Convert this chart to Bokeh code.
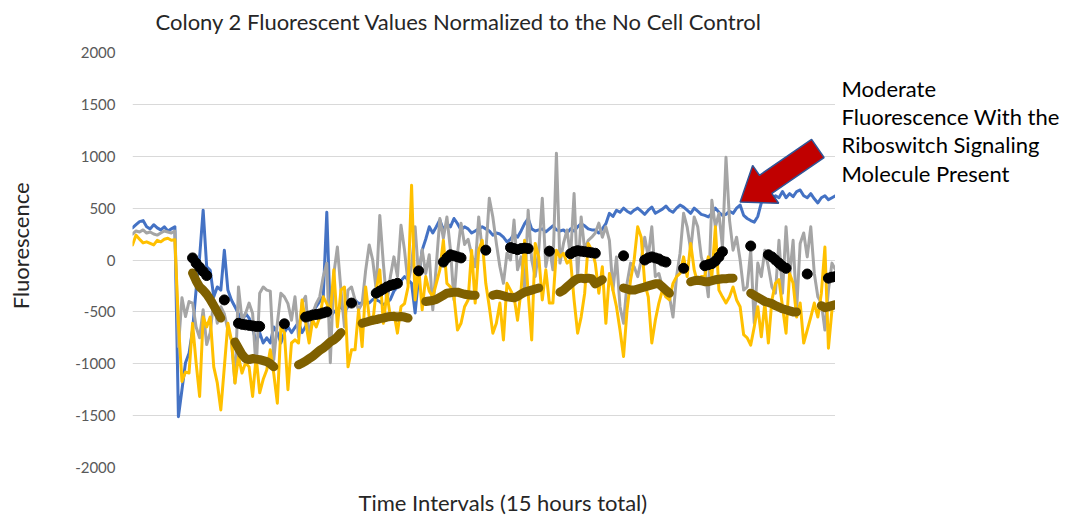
import numpy as np
from bokeh.plotting import figure
from bokeh.layouts import row, column
from bokeh.models import Range1d, Label, FixedTicker
from bokeh.embed import file_html
from bokeh.resources import INLINE

# ---------------- texts ----------------
TITLE = "Colony 2 Fluorescent Values Normalized to the  No Cell Control"
X_TITLE = "Time Intervals (15 hours total)"
Y_TITLE = "Fluorescence"
NOTE_LINES = ["Moderate", "Fluorescence With the", "Riboswitch Signaling", "Molecule Present"]
Y_TICKS = [-2000, -1500, -1000, -500, 0, 500, 1000, 1500, 2000]

# ---------------- series (one value per time interval) ----------------
blue = [310, 340, 370, 380, 320, 300, 340, 310, 290, 320, 280, 300, 320,
        -1510, -1250, -990, -900, -675, -290, 30, 480, -65, -100, -355, -260, -290, 95, -290, -385,
        -450, -520, -600, -515, -560, -650, -800, -700, -800, -750, -800, -645, -700, -800, -700,
        -640, -700, -650, -600, -700, -640, -560, -500, -450, -400, -350, 460, -550,
        -500, -480, -450, -500, -450, -400, -385, -420,
        -415, -400, -415, -380, -385, -400, -430, -415, -380, -300, -260, -200, -160, -190, -225,
        -510, -160, 95, 200, 320, 260, 320, 385, 290, 350, 320, 400, 350, 290, 320, 300, 260, 280, 300,
        320, 300, 280, 240, 260, 250, 220, 175, 200, 250, 220, 280, 350, 400, 300, 280, 290, 300,
        270, 300, 330, 290, 280, 290, 260, 300, 280, 320, 350, 330, 300, 290,
        290, 260, 300, 350, 450, 420, 480, 460, 500, 470, 450, 480, 500, 470, 440, 480, 510, 450,
        470, 490, 520, 480, 460, 500, 530, 510, 480, 450, 500, 470, 440, 430,
        415, 450, 500, 460, 430, 440, 470, 450, 500, 530, 430, 400, 380, 365, 420, 550, 600, 640,
        580, 620, 600, 660, 600, 640, 610, 660, 675, 620, 600, 640, 590, 550, 600, 620, 580, 600, 620]

gray = [250, 280, 270, 290, 260, 270, 250, 240, 260, 280, 270, 260, 280,
        -835, -365, -545, -400, -415, -645, -750, -480, -815, -700, -385, -610, -450, -520, -675,
        -770, -1185, -260, -580, -515, -415, -515, -1060, -320, -260, -290, -300, -960, -610, -320,
        -355, -420, -580, -355, -740, -415, -350, -770, -515, -420, -355, -160, -30, -990,
        -130, 125, -290, -645, -290, -260, -385, -480,
        -420, -100, 145, 0, -290, 430, -30, -415, -160, 30, -160, 335, 95, -225, -50, 320, -160,
        100, -130, 50, -480, -50, 400, 210, 415, 100, -385, 65, 355, 150, 200, 50, -65, 415,
        95, 65, 595, 415, 160, -65, -225, 65, 0, 385, -95, 30, -290, 480, 0, -160, 95, 595, -65,
        125, -95, 1030, -30, 160, 290, 30, 640, -160, 415, 95, 190, 220,
        260, 355, 220, 320, 190, -290, 30, -450, -610, -225, -30, -65, -160, 0, 220, 30, 320,
        -160, -130, -260, -355, -355, -550, -160, 65, 450, 320, 95, 415, 320, 30, -95,
        -355, 575, 320, 450, 125, 990, 385, 95, 220, 0, -290, -260, 95, -610, -30, -160, 95, -65,
        -260, -320, 190, -320, 320, -160, 190, -480, 160, 260, 30, 320, -130, -355, -415, -675,
        -290, -30, -95]

yellow = [145, 240, 200, 165, 175, 160, 145, 190, 175, 200, 210, 190, 195,
          -610, -1170, -1080, -1090, -610, -990, -1315, -550, -645, -550, -1030, -1185, -1445,
          -1030, -610, -770, -1185, -930, -1090, -990, -1030,
          -1315, -930, -1280, -1150, -1060, -865, -1100, -1380, -645, -700, -1250, -800, -770,
          -800, -385, -600, -800, -580, -645, -550, -355, -420, -510, -95, -645, -290, -260,
          -1030, -865, -865, -480,
          -835, -260, -550, -610, -290, -95, -610, -320, -550, -510, -705, -450, -420, -260, 720,
          -385, -65, -480, -160, -300, -355, -225, -95, 190, -225, -260, -355, -675, -610, -450,
          -385, 95,
          -415, 95, 190, -225, -450, -705, -610, -415, -770, -225, -290, -355, -580, -290, 190,
          -320, -770, 160, 30, -385, -95, -415, -415, 95, 30, 65, -30, 0, -385, -705, -550, -320,
          160, 95, -30, -320, -65, -610, -130, -290, -450, -675, -930, -480, -190, 0, 320, 220,
          -225, -355, -800, -580, -415, -290, -355, -385, -225, -160, -130, 30, -160, 160, -95,
          -225, -160, -160,
          30, -160, 320, -290, -355, -415, -355, -260, -385, -450, -720, -750, -820, -645, -450,
          -740, -415, -800, -385, -225, -190, -450, -705, -130, -225, -550, -415, -800, -675,
          -550, -415, -550, -320, 125, -850, -480, -415]

# hand-drawn averaging marks: (first interval, values)
black_segments = [
    (17, [20, -30, -70, -110, -150]),
    (26, [-385]),
    (30, [-610, -620, -625, -630, -635, -640, -640]),
    (43, [-615]),
    (49, [-550, -540, -530, -525, -520, -510, -500]),
    (62, [-415]),
    (69, [-320, -300, -280, -260, -245, -235, -225]),
    (81, [-105]),
    (88, [-20, 20, 50, 40, 30, 20]),
    (100, [95]),
    (107, [120, 110, 100, 110, 115, 110]),
    (118, [85]),
    (124, [60, 80, 90, 85, 80, 75, 70, 65]),
    (139, [40]),
    (145, [0, 20, 30, 20, 10, -10, -20]),
    (156, [-80]),
    (162, [-55, -45, -35, -10, 30, 80]),
    (175, [135]),
    (180, [50, 30, 0, -30, -60, -80]),
    (191, [-135]),
    (197, [-175, -165, -160]),
]

olive_segments = [
    (17, [-125, -200, -260, -290, -330, -380, -440, -500, -560]),
    (29, [-790, -850, -910, -950, -960, -950, -955, -960, -970, -980, -1000, -1030]),
    (47, [-1010, -995, -975, -950, -930, -900, -870, -850, -820, -790, -770, -740, -700]),
    (65, [-610, -600, -590, -580, -575, -565, -560, -550, -545, -545, -550, -545, -550, -560]),
    (83, [-400, -395, -390, -380, -360, -340, -320, -315, -310, -310, -320, -330, -335, -340, -340]),
    (102, [-340, -330, -335, -345, -355, -360, -365, -350, -330, -310, -300, -290, -280, -270]),
    (121, [-310, -290, -260, -230, -200, -180, -175, -180, -175, -180, -230, -210, -190]),
    (139, [-270, -280, -290, -290, -280, -270, -260, -250, -240, -230, -230, -260, -290, -320]),
    (158, [-210, -200, -195, -200, -210, -210, -200, -190, -185, -180, -180, -175, -175]),
    (175, [-320, -340, -360, -380, -400, -410, -420, -440, -455, -470, -480, -490, -500, -500]),
    (195, [-440, -460, -450, -440, -430]),
]

# arrow annotation (tip and tail centre in data units)
ARROW_TIP = (172.0, 560)
ARROW_TAIL = (194.0, 1075)

# ---------------- layout (page is 1072 x 515, figures start at 0,0) ----------------
N = len(yellow)
FONT = "Lato"
TITLE_COLOR = "#262626"
PAGE_W, PAGE_H = 1072, 515
TOP_H, BOT_H, YT_W = 40, 35, 60
FRAME_L, FRAME_T, FRAME_W, FRAME_H = 132, 52, 703, 415
MID_H = PAGE_H - TOP_H - BOT_H
P_W = FRAME_L + FRAME_W - YT_W
NOTE_W = PAGE_W - YT_W - P_W
X0, X1 = 0, N - 1
Y0, Y1 = -2000, 2000


def text_panel(w, h):
    f = figure(width=w, height=h, output_backend="svg", toolbar_location=None, title=None,
               x_range=Range1d(0, w), y_range=Range1d(h, 0), min_border=0,
               min_border_left=0, min_border_right=0, min_border_top=0, min_border_bottom=0)
    f.outline_line_color = None
    f.axis.visible = False
    f.grid.visible = False
    return f


p = figure(width=P_W, height=MID_H, output_backend="svg", toolbar_location=None,
           x_range=Range1d(X0, X1), y_range=Range1d(Y0, Y1),
           min_border_left=FRAME_L - YT_W, min_border_right=0,
           min_border_top=FRAME_T - TOP_H,
           min_border_bottom=MID_H - (FRAME_T - TOP_H) - FRAME_H)
p.outline_line_color = None
p.background_fill_color = "white"
p.border_fill_color = "white"
p.xaxis.visible = False
p.xgrid.visible = False
p.ygrid.grid_line_color = "#D9D9D9"
p.ygrid.grid_line_width = 1
p.yaxis.ticker = FixedTicker(ticks=Y_TICKS)
p.yaxis.major_label_overrides = {t: str(t) for t in Y_TICKS}
p.yaxis.axis_line_color = None
p.yaxis.major_tick_line_color = None
p.yaxis.minor_tick_line_color = None
p.yaxis.major_tick_out = 0
p.yaxis.major_tick_in = 0
p.yaxis.major_label_standoff = 17
p.yaxis.major_label_text_font = FONT
p.yaxis.major_label_text_font_size = "15px"
p.yaxis.major_label_text_color = "#595959"


def seg_array(segs, n):
    arr = np.full(n, np.nan)
    for start, vals in segs:
        arr[start:start + len(vals)] = vals
    return arr


for series, color in ((blue, "#4472C4"), (gray, "#A5A5A5"), (yellow, "#FFC000")):
    p.line(np.arange(len(series)), series, line_color=color, line_width=3,
           line_join="round", line_cap="round")

olive = seg_array(olive_segments, N)
p.line(np.arange(N), olive, line_color="#7F6000", line_width=9, line_cap="round", line_join="round")

black = seg_array(black_segments, N)
p.line(np.arange(N), black, line_color="black", line_width=8, line_cap="round", line_join="round")
mask = ~np.isnan(black)
p.scatter(np.arange(N)[mask], black[mask], size=10, color="black")

# block arrow, built in pixel space then mapped back to data units
kx = FRAME_W / (X1 - X0)
ky = FRAME_H / (Y1 - Y0)
tx, ty = ARROW_TIP[0] * kx, ARROW_TIP[1] * ky
ex, ey = ARROW_TAIL[0] * kx, ARROW_TAIL[1] * ky
L = np.hypot(ex - tx, ey - ty)
ux, uy = (ex - tx) / L, (ey - ty) / L
nx, ny = -uy, ux
head_len, head_half, shaft_half = 31, 23, 11
bx, by = tx + head_len * ux, ty + head_len * uy
pts = [(tx, ty),
       (bx + head_half * nx, by + head_half * ny),
       (bx + shaft_half * nx, by + shaft_half * ny),
       (ex + shaft_half * nx, ey + shaft_half * ny),
       (ex - shaft_half * nx, ey - shaft_half * ny),
       (bx - shaft_half * nx, by - shaft_half * ny),
       (bx - head_half * nx, by - head_half * ny)]
p.patch([q[0] / kx for q in pts], [q[1] / ky for q in pts],
        fill_color="#C00000", line_color="#2F5597", line_width=1.5)

# ---- text panels (pixel coordinates, y downwards; y = vertical middle of the text)
top = text_panel(PAGE_W, TOP_H)
top.add_layout(Label(x=155, y=21, text=TITLE, text_font=FONT, text_font_size="22px",
                     text_color=TITLE_COLOR, text_align="left", text_baseline="middle"))

ytl = text_panel(YT_W, MID_H)
ytl.add_layout(Label(x=20, y=245 - TOP_H, text=Y_TITLE, text_font=FONT, text_font_size="22px",
                     text_color=TITLE_COLOR, text_align="center", text_baseline="middle",
                     angle=np.pi / 2))

note = text_panel(NOTE_W, MID_H)
for k, line in enumerate(NOTE_LINES):
    note.add_layout(Label(x=6, y=38 + 30 * k, text=line, text_font=FONT,
                          text_font_size="22px", text_color="#000000",
                          text_align="left", text_baseline="middle"))

bot = text_panel(PAGE_W, BOT_H)
bot.add_layout(Label(x=358, y=502 - (PAGE_H - BOT_H), text=X_TITLE, text_font=FONT,
                     text_font_size="22px", text_color=TITLE_COLOR,
                     text_align="left", text_baseline="middle"))

layout = column(top, row(ytl, p, note), bot)
open("out.html", "w").write(file_html(layout, INLINE))
